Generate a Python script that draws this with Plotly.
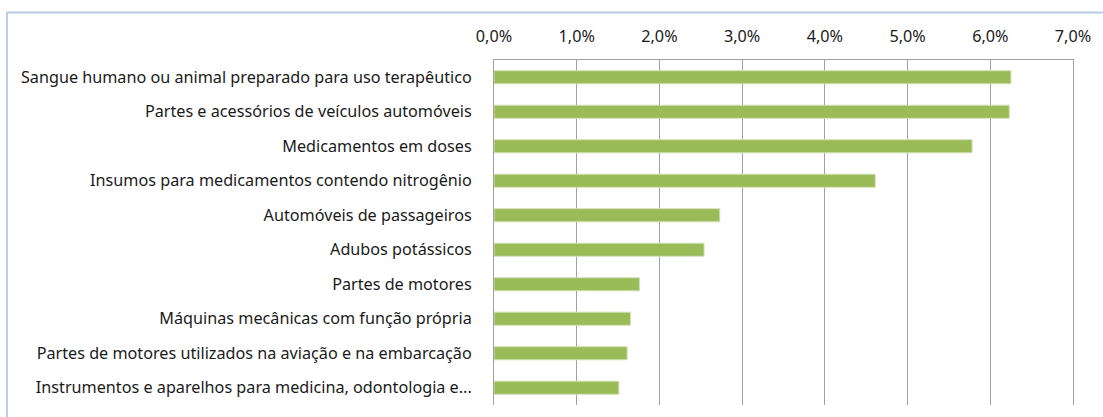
import plotly.graph_objects as go

categories = [
    "Sangue humano ou animal preparado para uso terapêutico",
    "Partes e acessórios de veículos automóveis",
    "Medicamentos em doses",
    "Insumos para medicamentos contendo nitrogênio",
    "Automóveis de passageiros",
    "Adubos potássicos",
    "Partes de motores",
    "Máquinas mecânicas com função própria",
    "Partes de motores utilizados na aviação e na embarcação",
    "Instrumentos e aparelhos para medicina, odontologia e...",
]
values = [6.25, 6.23, 5.78, 4.61, 2.73, 2.54, 1.76, 1.65, 1.61, 1.51]
tick_vals = [0, 1, 2, 3, 4, 5, 6, 7]
tick_text = [f"{v:.1f}%".replace(".", ",") for v in tick_vals]

W, H = 1103, 417
L, R, T, B = 494, 1076, 60, 405

def px_x(p):
    return (p - L) / (R - L)

def px_y(p):
    return (B - p) / (B - T)

fig = go.Figure(go.Bar(
    y=categories, x=values, orientation="h",
    marker=dict(color="#9bbb59", line=dict(color="#d3e3b4", width=1)),
))

fig.update_layout(
    width=W, height=H,
    margin=dict(l=L, r=W - R, t=T, b=H - B, pad=0),
    paper_bgcolor="white", plot_bgcolor="white",
    bargap=0.62,
    showlegend=False,
    font=dict(family="Noto Sans", size=16.2, color="#1a1a1a"),
    xaxis=dict(
        side="top", range=[0, 7], tickvals=tick_vals, ticktext=tick_text,
        showgrid=True, gridcolor="#a0a0a0", gridwidth=1,
        zeroline=False, showline=True, linecolor="#a0a0a0", linewidth=1,
        mirror=False, ticks="", ticklabelstandoff=11,
    ),
    yaxis=dict(
        autorange="reversed", showgrid=False, zeroline=False,
        showline=True, linecolor="#a0a0a0", linewidth=1, mirror=True,
        ticks="", ticklabelstandoff=18,
    ),
    shapes=[dict(
        type="rect", xref="paper", yref="paper",
        x0=px_x(4.5), x1=px_x(1110), y0=px_y(430), y1=px_y(12.5),
        line=dict(color="#b9cde5", width=2), fillcolor="rgba(0,0,0,0)",
        layer="below",
    )],
)

fig.write_html("out.html")
